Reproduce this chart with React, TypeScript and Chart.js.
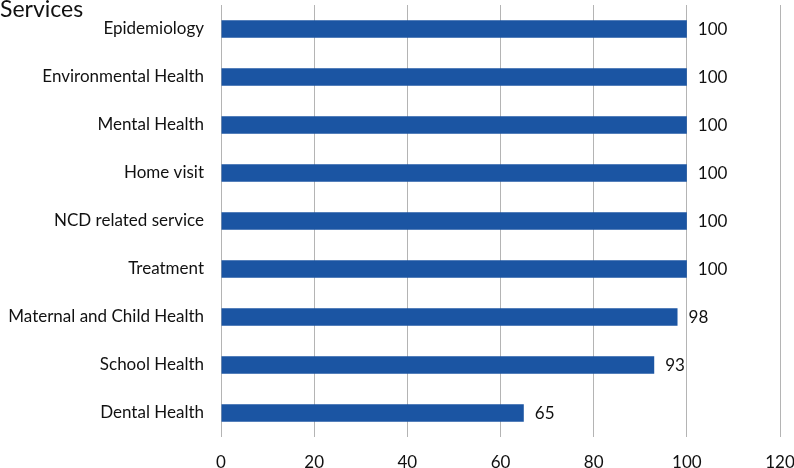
import React, { useEffect, useRef } from "react";
import { Chart, registerables } from "chart.js";

Chart.register(...registerables);

const categories = [
  "Epidemiology",
  "Environmental Health",
  "Mental Health",
  "Home visit",
  "NCD related service",
  "Treatment",
  "Maternal and Child Health",
  "School Health",
  "Dental Health",
];
const values = [100, 100, 100, 100, 100, 100, 98, 93, 65];
const xTicks = [0, 20, 40, 60, 80, 100, 120];
const titleText = "Services";

const FONT = "Lato";

function zeroPad(scale: any) {
  scale.paddingTop = 0;
  scale.paddingBottom = 0;
  scale.paddingLeft = 0;
  scale.paddingRight = 0;
}

export default function App() {
  const ref = useRef<HTMLCanvasElement>(null);
  useEffect(() => {
    const ctx = ref.current!.getContext("2d")!;
    const labelPlugin = {
      id: "labels",
      afterDatasetsDraw(chart: any) {
        const c = chart.ctx;
        const meta = chart.getDatasetMeta(0);
        c.save();
        c.font = `17px ${FONT}`;
        c.fillStyle = "#111";
        c.textAlign = "left";
        c.textBaseline = "middle";
        meta.data.forEach((bar: any, i: number) => {
          c.fillText(String(values[i]), bar.x + 11, bar.y + 1);
        });
        c.font = `23px ${FONT}`;
        c.textBaseline = "alphabetic";
        c.fillStyle = "#111";
        c.fillText(titleText, 0, 17);
        c.restore();
      },
    };
    const chart = new Chart(ctx, {
      type: "bar",
      data: {
        labels: categories,
        datasets: [
          {
            data: values,
            backgroundColor: "#1b55a3",
            categoryPercentage: 1,
            barPercentage: 0.36,
          },
        ],
      },
      options: {
        indexAxis: "y",
        animation: false,
        responsive: false,
        layout: { padding: { top: 5, right: 14, left: 0, bottom: 0 } },
        plugins: {
          legend: { display: false },
          tooltip: { enabled: false },
          title: { display: false },
        },
        scales: {
          x: {
            min: 0,
            max: 120,
            afterBuildTicks(scale: any) {
              scale.ticks = xTicks.map((v) => ({ value: v }));
            },
            afterFit(scale: any) {
              scale.height = 31;
              zeroPad(scale);
            },
            grid: { color: "#b4b4b4", drawTicks: false, lineWidth: 1 },
            border: { display: false },
            ticks: {
              padding: 15,
              color: "#111",
              font: { family: FONT, size: 17 },
            },
          },
          y: {
            afterFit(scale: any) {
              scale.width = 221;
              zeroPad(scale);
            },
            grid: { display: false, drawTicks: false },
            border: { display: false },
            ticks: {
              padding: 17,
              color: "#111",
              font: { family: FONT, size: 17 },
            },
          },
        },
      },
      plugins: [labelPlugin],
    });
    return () => chart.destroy();
  }, []);
  return (
    <div style={{ position: "fixed", left: 0, top: 0, width: 794, height: 468, background: "#fff" }}>
      <canvas ref={ref} width={794} height={468} style={{ display: "block" }} />
    </div>
  );
}
